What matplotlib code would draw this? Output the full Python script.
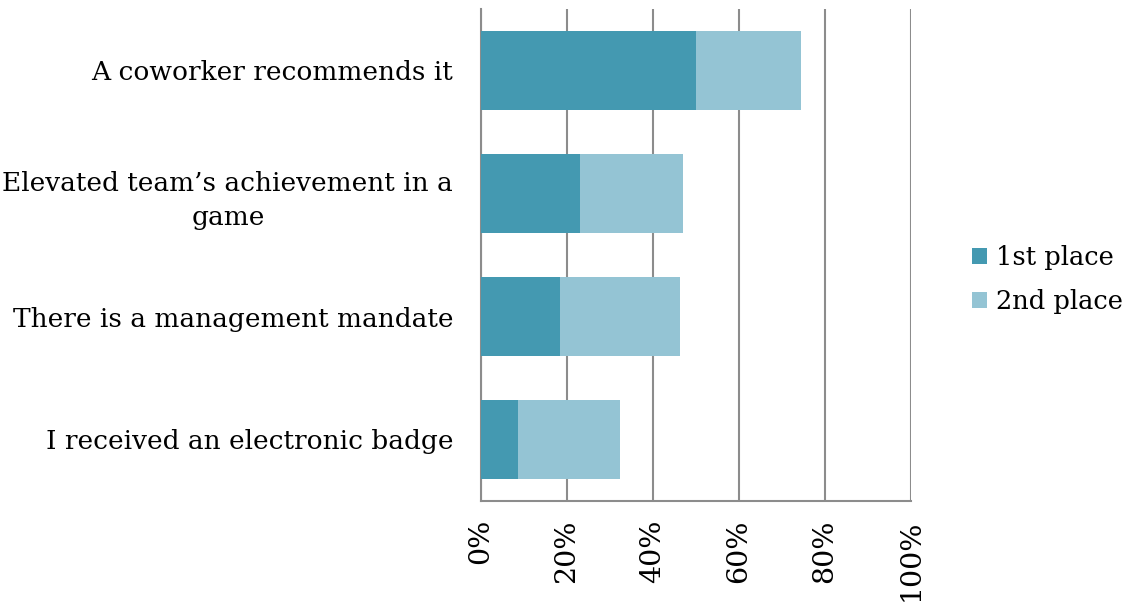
import matplotlib
matplotlib.use("Agg")
import matplotlib.pyplot as plt
from matplotlib.ticker import PercentFormatter

plt.rcParams["font.family"] = ["DejaVu Serif"]

# Reasons, listed top to bottom
reasons = [
    "A coworker recommends it",
    "Elevated team\u2019s achievement in a\ngame",
    "There is a management mandate",
    "I received an electronic badge",
]
first_place = [50.0, 23.0, 18.4, 8.6]
second_place = [24.4, 24.0, 27.9, 23.7]

dark = "#4499b1"
light = "#94c4d4"
grid_gray = "#8c8c8c"

fig = plt.figure(figsize=(11.36, 6.04), dpi=100)
ax = fig.add_axes([481 / 1136, 1 - 501 / 604, 430 / 1136, 492 / 604])

pos = list(range(len(reasons)))
ax.barh(pos, first_place, height=0.64, color=dark, label="1st place", zorder=3)
ax.barh(pos, second_place, left=first_place, height=0.64, color=light,
        label="2nd place", zorder=3)

ax.set_xlim(0, 100)
ax.set_ylim(len(reasons) - 0.5, -0.5)
ax.set_xticks(range(0, 101, 20))
ax.xaxis.set_major_formatter(PercentFormatter(decimals=0))
ax.set_yticks(pos)
ax.set_yticklabels(reasons, fontsize=19, multialignment="center",
                   linespacing=1.45)
ax.tick_params(axis="y", length=0, pad=20)
ax.tick_params(axis="x", length=0, pad=13, labelsize=20.5, labelrotation=90)

ax.grid(axis="x", color=grid_gray, linewidth=1.5, zorder=0)
for side in ["top", "right"]:
    ax.spines[side].set_visible(False)
for side in ["left", "bottom"]:
    ax.spines[side].set_color(grid_gray)
    ax.spines[side].set_linewidth(1.5)

ax.legend(loc="center left", bbox_to_anchor=(1.087, 0.45), frameon=False,
          fontsize=18.5, handlelength=0.6, handleheight=0.6,
          handletextpad=0.35, labelspacing=0.75)

fig.savefig("out.png", dpi=100)
